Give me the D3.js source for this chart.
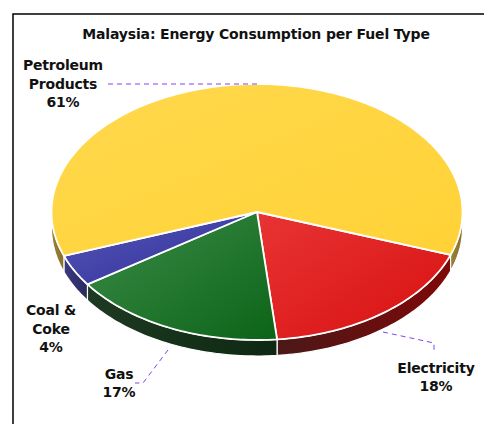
<!DOCTYPE html>
<html><head><meta charset="utf-8">
<script src="https://cdn.jsdelivr.net/npm/d3@7"></script>
<style>html,body{margin:0;padding:0;background:#fff;}svg{display:block;}</style>
</head><body>
<svg id="c" width="484" height="424"></svg>
<script>
const title = "Malaysia: Energy Consumption per Fuel Type";
const categories = ["Electricity", "Gas", "Coal & Coke", "Petroleum Products"];
const values = [18, 17, 4, 61];
const labelLines = [["Electricity", "18%"], ["Gas", "17%"], ["Coal &", "Coke", "4%"], ["Petroleum", "Products", "61%"]];
const topColors = [["#e83434", "#d81010"], ["#3c8c48", "#0c6418"], ["#5858b8", "#2c2c98"], ["#ffd84c", "#ffd236"]];
const sideColors = [["#4a1818", "#800808"], ["#1e3a22", "#0e2812"], ["#3a3a80", "#2a2a60"], ["#9a8238", "#8a7028"]];

const svg = d3.select("#c");
const cx = 257, cy = 212, rx = 205.5, ry = 128, depth = 16;

// frame
svg.append("rect").attr("x", 13).attr("y", 14).attr("width", 480).attr("height", 430)
  .attr("fill", "#fff").attr("stroke", "#000").attr("stroke-width", 1.5);

svg.append("text").attr("x", 256).attr("y", 39).attr("text-anchor", "middle")
  .attr("font-family", "DejaVu Sans").attr("font-weight", "bold").attr("font-size", 14)
  .attr("letter-spacing", -0.15).attr("fill", "#111").text(title);

const start = 109.6 * Math.PI / 180;
const pie = d3.pie().sort(null).value(d => d).startAngle(start).endAngle(start + 2 * Math.PI);
const arcs = pie(values);

const pt = (a, dy = 0) => [cx + rx * Math.sin(a), cy - ry * Math.cos(a) + dy];
function arcPts(a0, a1, dy) {
  const n = Math.max(2, Math.ceil(Math.abs(a1 - a0) / 0.02));
  return d3.range(n + 1).map(i => pt(a0 + (a1 - a0) * i / n, dy));
}

const defs = svg.append("defs");
arcs.forEach((d, i) => {
  const g = defs.append("linearGradient").attr("id", "tg" + i)
    .attr("x1", "0%").attr("y1", "0%").attr("x2", "100%").attr("y2", "100%");
  g.append("stop").attr("offset", "0%").attr("stop-color", topColors[i][0]);
  g.append("stop").attr("offset", "100%").attr("stop-color", topColors[i][1]);
  const s = defs.append("linearGradient").attr("id", "sg" + i)
    .attr("x1", "0%").attr("y1", "0%").attr("x2", "100%").attr("y2", "0%");
  s.append("stop").attr("offset", "0%").attr("stop-color", sideColors[i][0]);
  s.append("stop").attr("offset", "100%").attr("stop-color", sideColors[i][1]);
});

// sides (front half only)
const line = d3.line();
const sides = svg.append("g");
arcs.forEach((d, i) => {
  for (let k = 0; k < 2; k++) {
    const lo = Math.PI / 2 + k * 2 * Math.PI, hi = 3 * Math.PI / 2 + k * 2 * Math.PI;
    const a0 = Math.max(d.startAngle, lo), a1 = Math.min(d.endAngle, hi);
    if (a1 > a0) {
      const ptsTop = arcPts(a0, a1, 0);
      const ptsBot = arcPts(a1, a0, depth);
      sides.append("path").attr("d", line(ptsTop.concat(ptsBot)) + "Z")
        .attr("fill", `url(#sg${i})`).attr("stroke", "#fff").attr("stroke-width", 1.2)
        .attr("stroke-linejoin", "round");
    }
  }
});

// tops
const tops = svg.append("g");
arcs.forEach((d, i) => {
  const pts = [[cx, cy]].concat(arcPts(d.startAngle, d.endAngle, 0));
  tops.append("path").attr("d", line(pts) + "Z")
    .attr("fill", `url(#tg${i})`).attr("stroke", "#fff").attr("stroke-width", 1.8)
    .attr("stroke-linejoin", "round");
});

// leader lines
const leaders = [
  [[383, 332], [434, 343], [434, 353]],
  [[168, 350], [143, 383], [135, 383]],
  null,
  [[257, 84], [105, 84]]
];
leaders.forEach(l => {
  if (!l) return;
  svg.append("path").attr("d", line(l)).attr("fill", "none")
    .attr("stroke", "#8040ff").attr("stroke-width", 1).attr("stroke-dasharray", "5,4");
});

// labels
const labelPos = [[436, 373], [119, 379], [51, 315], [63, 70]];
const lineH = [18, 18, 18.5, 18.5];
arcs.forEach((d, i) => {
  const t = svg.append("text").attr("text-anchor", "middle")
    .attr("font-family", "DejaVu Sans").attr("font-weight", "bold").attr("font-size", 14)
    .attr("letter-spacing", -0.2).attr("fill", "#111");
  labelLines[i].forEach((s, j) => {
    t.append("tspan").attr("x", labelPos[i][0]).attr("y", labelPos[i][1] + j * lineH[i]).text(s);
  });
});
</script>
</body></html>
